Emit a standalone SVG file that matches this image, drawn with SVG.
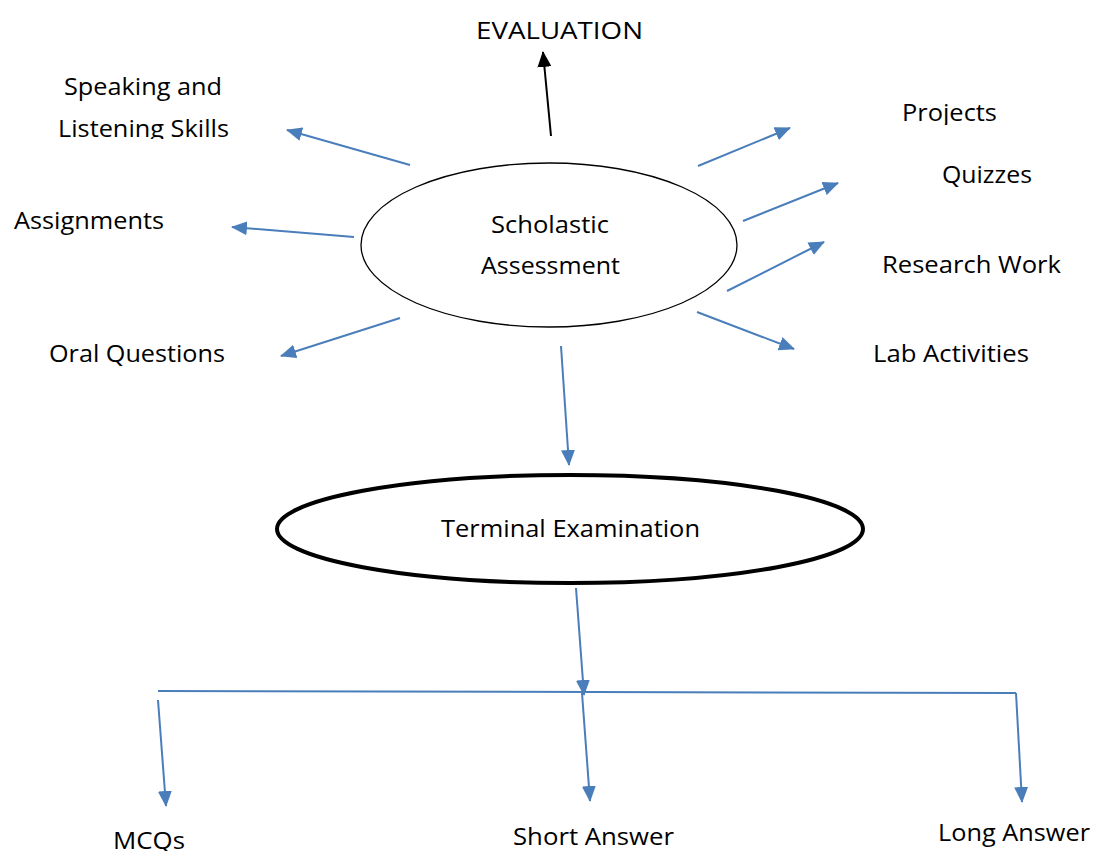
<svg xmlns="http://www.w3.org/2000/svg" width="1093" height="851" viewBox="0 0 1093 851">
<style>
text{font-family:"Open Sans","Liberation Sans",sans-serif;font-size:23px;fill:#000}
.c{stroke:#4a7ebb;stroke-width:2;fill:none;marker-end:url(#ab)}
.h{stroke:#4a7ebb;stroke-width:2;fill:none}
</style>
<defs>
<marker id="ab" markerUnits="userSpaceOnUse" markerWidth="16" markerHeight="14" refX="15" refY="7" orient="auto"><path d="M0,0 L16,7 L0,14 Z" fill="#4a7ebb"/></marker>
<marker id="ak" markerUnits="userSpaceOnUse" markerWidth="16" markerHeight="14" refX="15" refY="7" orient="auto"><path d="M0,0 L16,7 L0,14 Z" fill="#000"/></marker>
<clipPath id="clipSL"><rect x="0" y="60" width="300" height="79"/></clipPath>
<clipPath id="clipPr"><rect x="880" y="90" width="150" height="35"/></clipPath>
</defs>
<rect width="1093" height="851" fill="#fff"/>
<g id="connectors">
<line x1="551" y1="136" x2="543" y2="52" stroke="#000" stroke-width="2" marker-end="url(#ak)"/>
<line class="c" x1="410" y1="165" x2="287" y2="130"/>
<line class="c" x1="354" y1="237" x2="232" y2="227"/>
<line class="c" x1="400" y1="318" x2="281" y2="356"/>
<line class="c" x1="698" y1="166" x2="790" y2="128"/>
<line class="c" x1="743" y1="221" x2="838" y2="183"/>
<line class="c" x1="727" y1="291" x2="824" y2="242"/>
<line class="c" x1="697" y1="312" x2="794" y2="349"/>
<line class="c" x1="561" y1="346" x2="569" y2="465"/>
<line class="c" x1="576" y1="588" x2="584" y2="695"/>
<polyline class="h" points="158,691 1016,693"/>
<line class="h" x1="1016" y1="693" x2="1016" y2="694"/>
<line class="c" x1="158" y1="700" x2="166" y2="806"/>
<line class="c" x1="582" y1="693" x2="590" y2="801"/>
<line class="c" x1="1016" y1="693" x2="1022" y2="802"/>
</g>
<g id="evaluation"><text x="476" y="39" textLength="167" lengthAdjust="spacingAndGlyphs">EVALUATION</text></g>
<g id="scholastic">
<ellipse cx="549" cy="245" rx="188" ry="82" fill="none" stroke="#000" stroke-width="1.3"/>
<text x="491" y="233" textLength="118" lengthAdjust="spacingAndGlyphs">Scholastic</text>
<text x="481" y="274" textLength="139" lengthAdjust="spacingAndGlyphs">Assessment</text>
</g>
<g id="speaking" clip-path="url(#clipSL)">
<text x="64" y="95" textLength="158" lengthAdjust="spacingAndGlyphs">Speaking and</text>
<text x="58" y="137" textLength="171" lengthAdjust="spacingAndGlyphs">Listening Skills</text>
</g>
<g id="assignments"><text x="14" y="229" textLength="150" lengthAdjust="spacingAndGlyphs">Assignments</text></g>
<g id="oral"><text x="49" y="362" textLength="176" lengthAdjust="spacingAndGlyphs">Oral Questions</text></g>
<g id="projects" clip-path="url(#clipPr)"><text x="902" y="121" textLength="95" lengthAdjust="spacingAndGlyphs">Projects</text></g>
<g id="quizzes"><text x="942" y="183" textLength="90" lengthAdjust="spacingAndGlyphs">Quizzes</text></g>
<g id="research"><text x="882" y="273" textLength="179" lengthAdjust="spacingAndGlyphs">Research Work</text></g>
<g id="lab"><text x="873" y="362" textLength="156" lengthAdjust="spacingAndGlyphs">Lab Activities</text></g>
<g id="terminal">
<ellipse cx="570" cy="529" rx="293" ry="54" fill="none" stroke="#000" stroke-width="4"/>
<text x="441" y="537" textLength="259" lengthAdjust="spacingAndGlyphs">Terminal Examination</text>
</g>
<g id="mcqs"><text x="113" y="849" textLength="72" lengthAdjust="spacingAndGlyphs">MCQs</text></g>
<g id="short"><text x="513" y="845" textLength="161" lengthAdjust="spacingAndGlyphs">Short Answer</text></g>
<g id="long"><text x="938" y="841" textLength="152" lengthAdjust="spacingAndGlyphs">Long Answer</text></g>
</svg>
